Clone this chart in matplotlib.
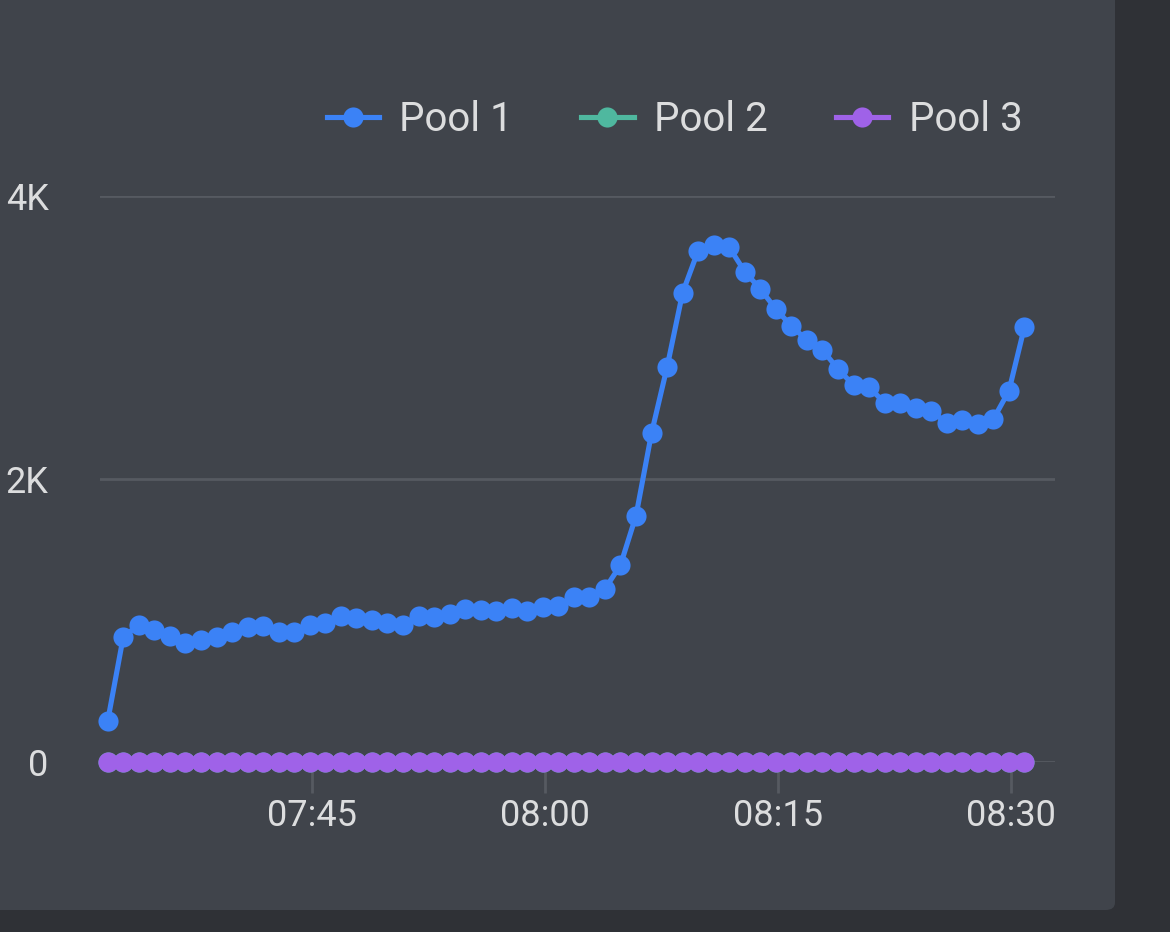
import matplotlib
matplotlib.use("Agg")
import matplotlib.pyplot as plt
import matplotlib.dates as mdates
from matplotlib.patches import FancyBboxPatch
import pandas as pd

# Datos (una muestra por minuto)
start_time = "2024-01-01 07:31:52"
n_points = 60
pool_1 = [292, 886, 968, 933, 890, 841, 862, 886, 921, 954,
          961, 921, 921, 968, 982, 1032, 1018, 1004, 982, 968,
          1032, 1025, 1046, 1081, 1074, 1067, 1088, 1067, 1095, 1102,
          1166, 1166, 1223, 1392, 1741, 2325, 2791, 3317, 3614, 3654,
          3637, 3465, 3343, 3201, 3081, 2982, 2912, 2777, 2664, 2650,
          2537, 2537, 2502, 2481, 2396, 2417, 2389, 2424, 2622, 3074]
pool_2 = [0] * n_points
pool_3 = [0] * n_points
series_names = ["Pool 1", "Pool 2", "Pool 3"]
y_ticks = [0, 2000, 4000]
y_tick_labels = ["0", "2K", "4K"]

times = pd.date_range(start_time, periods=n_points, freq="1min")

colors = ["#3b82f6", "#4fb89f", "#9f62e8"]
text_color = "#dcddde"
panel_color = "#40444b"
outer_color = "#2f3136"
grid_color = "#565a61"

plt.rcParams["font.family"] = ["Roboto", "DejaVu Sans"]

fig = plt.figure(figsize=(11.7, 9.32), dpi=100, facecolor=outer_color)

# panel de fondo con esquina redondeada
panel = FancyBboxPatch((-0.05, 1 - 910 / 932), 0.05 + 1115 / 1170, 1.2,
                       boxstyle="round,pad=0,rounding_size=0.008",
                       transform=fig.transFigure, facecolor=panel_color,
                       edgecolor="none", zorder=-10)
fig.patches.append(panel)

ax = fig.add_axes([100 / 1170, 1 - 762 / 932, 955 / 1170, 566 / 932])
ax.set_facecolor("none")
ax.set_zorder(1)

for vals, name, col in zip([pool_1, pool_2, pool_3], series_names, colors):
    ax.plot(times, vals, color=col, linewidth=3.7, marker="o", markersize=14.5,
            markeredgewidth=0, label=name, clip_on=False, zorder=3)

ax.set_ylim(0, 4000)
ax.set_xlim(pd.Timestamp("2024-01-01 07:31:22"), pd.Timestamp("2024-01-01 08:32:50"))
ax.set_yticks(y_ticks)
ax.set_yticklabels(y_tick_labels)
ax.xaxis.set_major_locator(mdates.MinuteLocator(byminute=[0, 15, 30, 45]))
ax.xaxis.set_major_formatter(mdates.DateFormatter("%H:%M"))

ax.grid(axis="y", color=grid_color, linewidth=2)
ax.set_axisbelow(True)
for s in ax.spines.values():
    s.set_visible(False)
ax.tick_params(axis="y", length=0, pad=37, labelsize=26, labelcolor=text_color)
ax.tick_params(axis="x", length=22, width=2, color=grid_color, pad=4,
               labelsize=26, labelcolor=text_color)

fig.legend(loc="center", bbox_to_anchor=(0.5765, 1 - 120 / 932), ncol=3,
           frameon=False, fontsize=29, labelcolor=text_color,
           handlelength=1.3, handletextpad=0.5, columnspacing=1.7,
           markerscale=1.0, borderpad=0)

fig.savefig("out.png", dpi=100, facecolor=outer_color)
